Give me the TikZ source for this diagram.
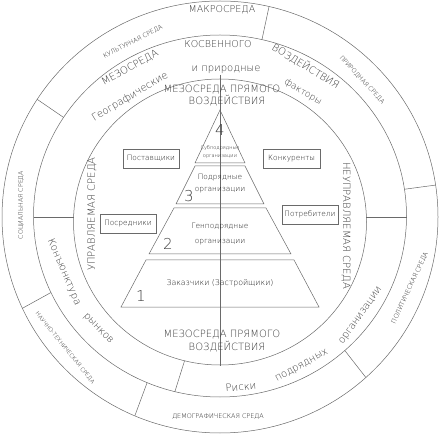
\documentclass[tikz,border=0pt]{standalone}
\usepackage{fontspec}
\IfFontExistsTF{DejaVuSans-ExtraLight.ttf}
  {\setmainfont{DejaVuSans-ExtraLight.ttf}}
  {\setmainfont{DejaVu Sans}}
\definecolor{lc}{HTML}{6A6A6A}
\definecolor{tc}{HTML}{3C3C3C}
\definecolor{tcs}{HTML}{1E1E1E}
\newcommand\fsz[1]{\fontsize{#1}{#1}\selectfont}
\begin{document}
\begin{tikzpicture}[x=1pt,y=-1pt,
  ln/.style={draw=lc, line width=0.5pt},
  tx/.style={text=tc, inner sep=0pt},
  big/.style={tx, font=\fsz{10}},
  small/.style={text=tcs, inner sep=0pt, font=\fsz{6.3}},
  lab/.style={text=tcs, inner sep=0pt, font=\fsz{7.4}},
  digit/.style={text=tc, inner sep=0pt, font=\fsz{15}},
  box/.style={draw=lc, line width=0.5pt, text=tcs, inner sep=0pt,
              minimum width=56pt, minimum height=19pt, font=\fsz{7.4}}]
\useasboundingbox (0,0) rectangle (441,435);
% circles
\draw[ln] (220,217) ellipse [x radius=218pt, y radius=216pt];
\draw[ln] (220,216) ellipse [x radius=186.5pt, y radius=181pt];
\draw[ln] (220,222) ellipse [x radius=146.5pt, y radius=143pt];
% outer band dividers
\foreach \a in {77,147,205,247,-48,8.5}
  \draw[ln] ({220+186.5*cos(\a)},{216-181*sin(\a)}) -- ({220+218*cos(\a)},{217-216*sin(\a)});
% middle band dividers
\draw[ln] (33.5,217) -- (73.6,217);
\draw[ln] (366.4,217) -- (406.5,217);
\draw[ln] ({220+146.5*cos(256)},{222-143*sin(256)}) -- ({220+186.5*cos(256)},{216-181*sin(256)});
% pyramid
\draw[ln] (220,110) -- (245,163) -- (195,163) -- cycle;
\draw[ln] (195,166) -- (245,166) -- (264,204) -- (176,204) -- cycle;
\draw[ln] (174,208) -- (266,208) -- (291,254) -- (149,254) -- cycle;
\draw[ln] (146,260) -- (294,260) -- (319,307) -- (121,307) -- cycle;
\coordinate (axT) at (220,75);
\coordinate (axB) at (220,366);
\draw[ln] (axT) -- (axB);
% macro band texts
\node[tx, font=\fsz{9.5}] (makro) at (222,10) {МАКРОСРЕДА};
\node[small] (kult) at (133,42) [rotate=27] {КУЛЬТУРНАЯ СРЕДА};
\node[small, font=\fsz{6.2}] (prirs) at (362,80) [rotate=-47] {ПРИРОДНАЯ СРЕДА};
\node[small, font=\fsz{6.2}] (soc) at (21,205) [rotate=90] {СОЦИАЛЬНАЯ СРЕДА};
\node[small, font=\fsz{5.7}] (nauch) at (65,348) [rotate=-51] {НАУЧНО-ТЕХНИЧЕСКАЯ СРЕДА};
\node[small, font=\fsz{6.4}] (demo) at (218,417) {ДЕМОГРАФИЧЕСКАЯ СРЕДА};
\node[small, font=\fsz{6.4}] (polit) at (410,288) [rotate=65] {ПОЛИТИЧЕСКАЯ СРЕДА};
% middle band texts
\node[tx, font=\fsz{9.5}] (kosv) at (218,44) {КОСВЕННОГО};
\node[big] (mezo) at (130,68) [rotate=29] {МЕЗОСРЕДА};
\node[big] (vozd) at (306,66) [rotate=-31] {ВОЗДЕЙСТВИЯ};
\node[big] (iprir) at (226,70) {и природные};
\node[big] (geo) at (130,97) [rotate=31] {Географические};
\node[big, font=\fsz{9}] (fakt) at (303,92) [rotate=-30] {факторы};
\node[big] (konj) at (64,272) [rotate=-67] {Конъюнктура};
\node[big] (ryn) at (98,329) [rotate=-46] {рынков};
\node[big] (riski) at (241,387) [rotate=4] {Риски};
\node[big] (podr) at (302,366) [rotate=29] {подрядных};
\node[big] (org) at (361,316) [rotate=55] {организации};
% inner disk texts
\node[big] (mpT1) at (222,90) {МЕЗОСРЕДА ПРЯМОГО};
\node[big] (mpT2) at (227,101) {ВОЗДЕЙСТВИЯ};
\node[big] (mpB1) at (222,335) {МЕЗОСРЕДА ПРЯМОГО};
\node[big] (mpB2) at (227,347) {ВОЗДЕЙСТВИЯ};
\node[big] (upr) at (92,214) [rotate=90] {УПРАВЛЯЕМАЯ СРЕДА};
\node[big] (neupr) at (346,226) [rotate=-90] {НЕУПРАВЛЯЕМАЯ СРЕДА};
% boxes
\node[box] (post) at (151,158.5) {Поставщики};
\node[box, minimum width=57pt] (konk) at (291.5,158.5) {Конкуренты};
\node[box] (posr) at (128,223.5) {Посредники};
\node[box] (potr) at (310,214.5) {Потребители};
% pyramid labels
\node[lab, font=\fsz{5}] (l4a) at (220,148) {Субподрядные};
\node[lab, font=\fsz{5}] (l4b) at (220,157) {организации};
\node[lab] (l3a) at (220,178) {Подрядные};
\node[lab] (l3b) at (220,190) {организации};
\node[lab] (l2a) at (220,227) {Генподрядные};
\node[lab] (l2b) at (220,242) {организации};
\node[lab, font=\fsz{7.8}] (l1) at (220,283) {Заказчики (Застройщики)};
\node[digit] (d4) at (220,130.5) {4};
\node[digit] (d3) at (189,196) {3};
\node[digit] (d2) at (168,244) {2};
\node[digit] (d1) at (141,296) {1};
\end{tikzpicture}
\end{document}
